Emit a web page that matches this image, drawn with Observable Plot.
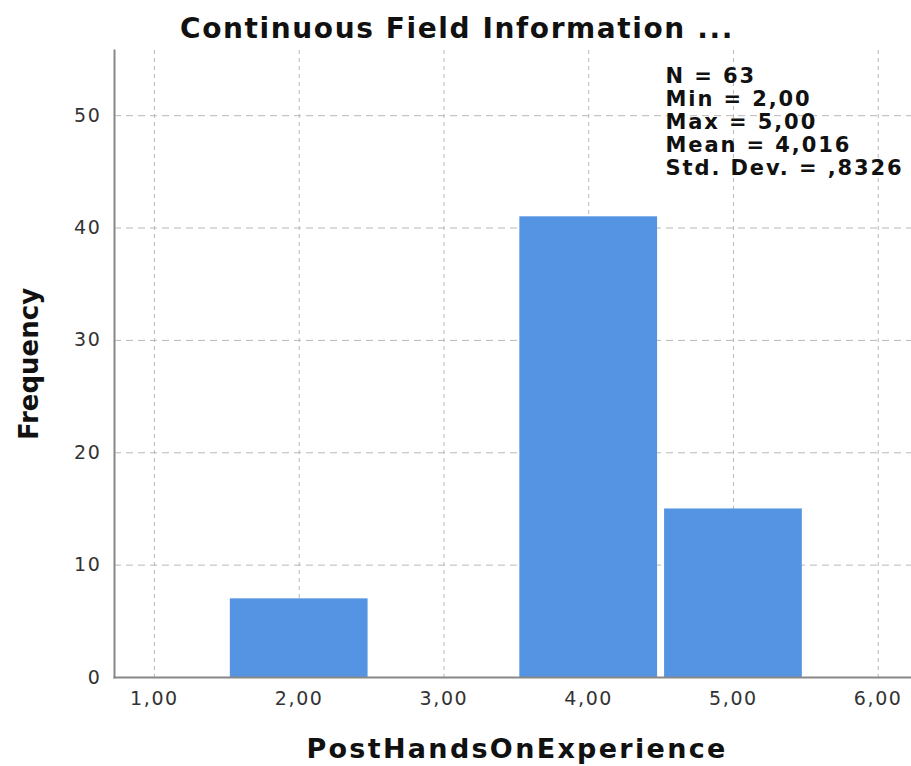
<!DOCTYPE html>
<html>
<head>
<meta charset="utf-8">
<script src="https://cdn.jsdelivr.net/npm/d3@7"></script>
<script src="https://cdn.jsdelivr.net/npm/@observablehq/plot@0.6"></script>
<style>
  html, body { margin: 0; padding: 0; background: #fff; }
  svg { display: block; }
  .ticks text { letter-spacing: 1.6px; }
</style>
</head>
<body>
<div id="chart"></div>
<script>
// Data
const categories = [2, 4, 5];
const counts = [7, 41, 15];
const xTicks = [1, 2, 3, 4, 5, 6];
const yTicks = [0, 10, 20, 30, 40, 50];
const statsLines = ["N = 63", "Min = 2,00", "Max = 5,00", "Mean = 4,016", "Std. Dev. = ,8326"];
const titleText = "Continuous Field Information ...";
const xLabel = "PostHandsOnExperience";
const yLabel = "Frequency";

const data = categories.map((c, i) => ({value: c, count: counts[i]}));
const font = "DejaVu Sans, sans-serif";
const fmt = d => d.toFixed(2).replace(".", ",");

const W = 911, H = 766;
const mL = 114, mR = 0, mT = 50, mB = 89;

const svg = Plot.plot({
  width: W,
  height: H,
  marginLeft: mL,
  marginRight: mR,
  marginTop: mT,
  marginBottom: mB,
  style: {fontFamily: font, background: "#fff"},
  x: {domain: [0.724, 6.23]},
  y: {domain: [0, 55.8]},
  marks: [
    Plot.gridX(xTicks, {stroke: "#b8b8b8", strokeOpacity: 1, strokeDasharray: "4,4"}),
    Plot.gridY(yTicks.filter(d => d > 0), {stroke: "#b8b8b8", strokeOpacity: 1, strokeDasharray: "7,5"}),
    Plot.rectY(data, {
      x1: d => d.value - 0.5,
      x2: d => d.value + 0.5,
      y1: 0,
      y2: "count",
      insetLeft: 3.5,
      insetRight: 3.5,
      fill: "#5594e2"
    }),
    Plot.frame({anchor: "left", stroke: "#888", strokeWidth: 2}),
    Plot.frame({anchor: "bottom", stroke: "#888", strokeWidth: 2}),
    Plot.axisX(xTicks, {
      tickSize: 0, tickPadding: 14, tickFormat: fmt,
      fontSize: 19, fill: "#333", label: null, className: "ticks"
    }),
    Plot.axisY(yTicks, {
      tickSize: 0, tickPadding: 13, tickFormat: d => String(d),
      fontSize: 19, fill: "#333", label: null, className: "ticks"
    }),
    Plot.text([statsLines.join("\n")], {
      text: d => d,
      frameAnchor: "top-left",
      dx: 665 - mL,
      dy: 16,
      lineAnchor: "top",
      textAnchor: "start",
      lineHeight: 1.1,
      fontSize: 21,
      fontWeight: "bold",
      fill: "#111",
      className: "stats"
    })
  ]
});

const s = d3.select(svg);
s.selectAll(".stats text").style("letter-spacing", "1.9px");
s.append("text")
  .attr("x", 457).attr("y", 38)
  .attr("text-anchor", "middle")
  .attr("font-family", font).attr("font-weight", "bold").attr("font-size", 28)
  .attr("letter-spacing", "1.6px")
  .attr("fill", "#111")
  .text(titleText);
s.append("text")
  .attr("x", 517).attr("y", 758)
  .attr("text-anchor", "middle")
  .attr("font-family", font).attr("font-weight", "bold").attr("font-size", 27)
  .attr("letter-spacing", "2.3px")
  .attr("fill", "#111")
  .text(xLabel);
s.append("text")
  .attr("transform", "translate(38,364) rotate(-90)")
  .attr("text-anchor", "middle")
  .attr("font-family", font).attr("font-weight", "bold").attr("font-size", 26)
  .attr("fill", "#111")
  .text(yLabel);

document.getElementById("chart").appendChild(svg);
</script>
</body>
</html>
